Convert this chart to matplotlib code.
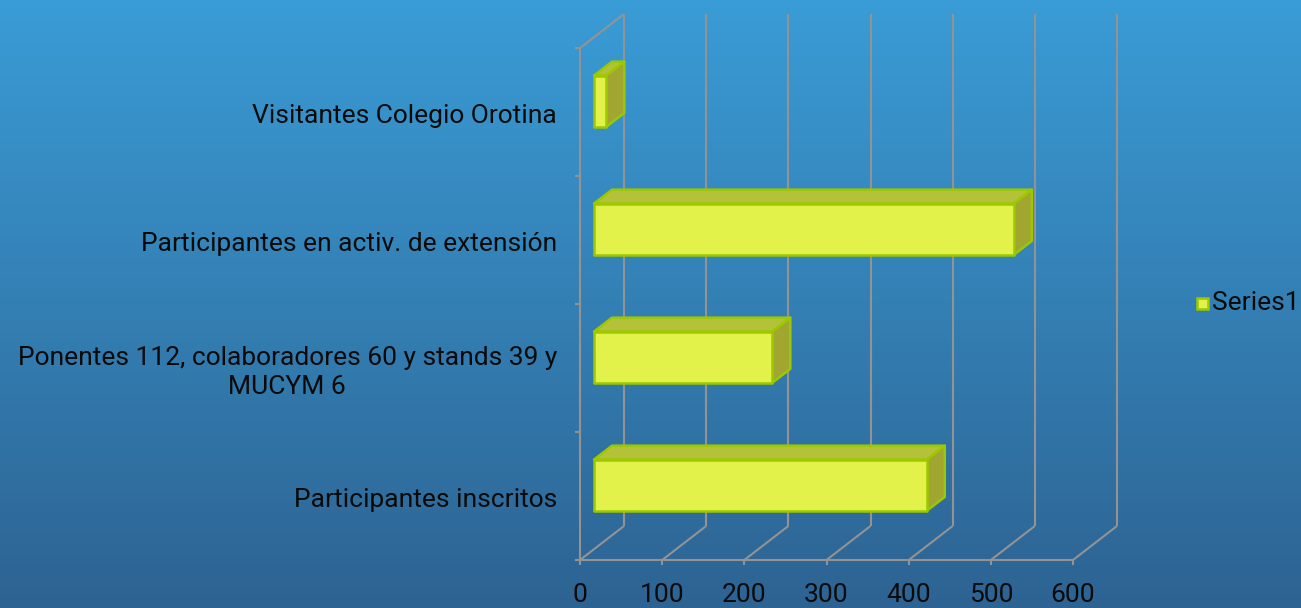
import numpy as np
import matplotlib
matplotlib.use("Agg")
import matplotlib.pyplot as plt
from matplotlib.patches import Polygon, Rectangle
from matplotlib import font_manager

categories = ["Participantes inscritos",
              "Ponentes 112, colaboradores 60 y stands 39 y\nMUCYM 6",
              "Participantes en activ. de extensión",
              "Visitantes Colegio Orotina"]
values = [405, 217, 511, 15]
xticks = [0, 100, 200, 300, 400, 500, 600]
series_name = "Series1"

names = {f.name for f in font_manager.fontManager.ttflist}
FONT = "Roboto" if "Roboto" in names else "DejaVu Sans"
FS = 19

W, H = 1301, 608
fig = plt.figure(figsize=(W / 100, H / 100), dpi=100)

# background gradient
bg = fig.add_axes([0, 0, 1, 1])
grad = np.linspace(0, 1, 256)[:, None]
top = np.array([0x3a, 0x9c, 0xd6]) / 255
bot = np.array([0x2d, 0x63, 0x92]) / 255
img = top[None, None, :] * (1 - grad[:, :, None]) + bot[None, None, :] * grad[:, :, None]
bg.imshow(img, aspect="auto", extent=[0, 1, 0, 1])
bg.set_axis_off()

x0px, x1px = 580, 1073
ytop, ybot = 48, 560
ax = fig.add_axes([x0px / W, (H - ybot) / H, (x1px - x0px) / W, (ybot - ytop) / H])
ax.set_xlim(0, 600)
ax.set_ylim(-0.5, 3.5)
ax.set_axis_off()
ax.patch.set_alpha(0)

px_x = 600 / (x1px - x0px)      # value units per pixel
px_y = 4 / (ybot - ytop)        # category units per pixel
DX = 44 * px_x
DY = 34 * px_y
GC = "#939393"
LW = 1.5

def proj(v, c, d):
    return v + d * DX, c + d * DY

kw = dict(color=GC, lw=LW, clip_on=False, solid_capstyle="butt")
# walls / floor
for v in xticks:
    (xa, ya), (xb, yb) = proj(v, -0.5, 0), proj(v, -0.5, 1)
    ax.plot([xa, xb], [ya, yb], zorder=1, **kw)
    (xa, ya), (xb, yb) = proj(v, -0.5, 1), proj(v, 3.5, 1)
    ax.plot([xa, xb], [ya, yb], zorder=1, **kw)
(xa, ya), (xb, yb) = proj(0, 3.5, 0), proj(0, 3.5, 1)
ax.plot([xa, xb], [ya, yb], zorder=1, **kw)
ax.plot([0, 0], [-0.5, 3.5], zorder=1, **kw)
ax.plot([0, 600], [-0.5, -0.5], zorder=1, **kw)
# ticks
tlx = 5 * px_x
tly = 5 * px_y
for k in range(5):
    ax.plot([-tlx, 0], [-0.5 + k, -0.5 + k], zorder=1, **kw)
for v in xticks:
    ax.plot([v, v], [-0.5, -0.5 - tly], zorder=1, **kw)
    ax.text(v, -0.5 - 35 * px_y, str(v), ha="center", va="center",
            fontsize=FS, family=FONT, color="#0a0a0a", clip_on=False)

# bars
d0, d1 = 14 / 44, 32 / 44
hh = 0.2
FRONT, TOP, SIDE, EDGE = "#e2f24a", "#b4c23a", "#a0a630", "#9cc800"
for i, v in enumerate(values):
    c = i
    fl, fb = proj(0, c - hh, d0)
    fr, ft = proj(v, c + hh, d0)
    bl, bb = proj(0, c - hh, d1)
    br, bt = proj(v, c + hh, d1)
    ax.add_patch(Polygon([(fl, ft), (fr, ft), (br, bt), (bl, bt)], closed=True,
                         fc=TOP, ec=EDGE, lw=1.8, zorder=3, clip_on=False, joinstyle="round"))
    ax.add_patch(Polygon([(fr, fb), (fr, ft), (br, bt), (br, bb)], closed=True,
                         fc=SIDE, ec=EDGE, lw=1.8, zorder=3, clip_on=False, joinstyle="round"))
    ax.add_patch(Polygon([(fl, fb), (fr, fb), (fr, ft), (fl, ft)], closed=True,
                         fc=FRONT, ec=EDGE, lw=1.8, zorder=4, clip_on=False, joinstyle="round"))

# category labels
for i, lab in enumerate(categories):
    ax.text(-23 * px_x, i - 0.035, lab, ha="right", va="center", multialignment="center",
            fontsize=FS, family=FONT, color="#0a0a0a", clip_on=False, linespacing=1.3)

# legend
fig.patches.append(Rectangle((1197 / W, (H - 309) / H), 11 / W, 11 / H,
                   transform=fig.transFigure, fc=FRONT, ec=EDGE, lw=1.8))
fig.text(1212 / W, (H - 303) / H, series_name, ha="left", va="center",
         fontsize=FS, family=FONT, color="#0a0a0a")

fig.savefig("out.png", dpi=100)
